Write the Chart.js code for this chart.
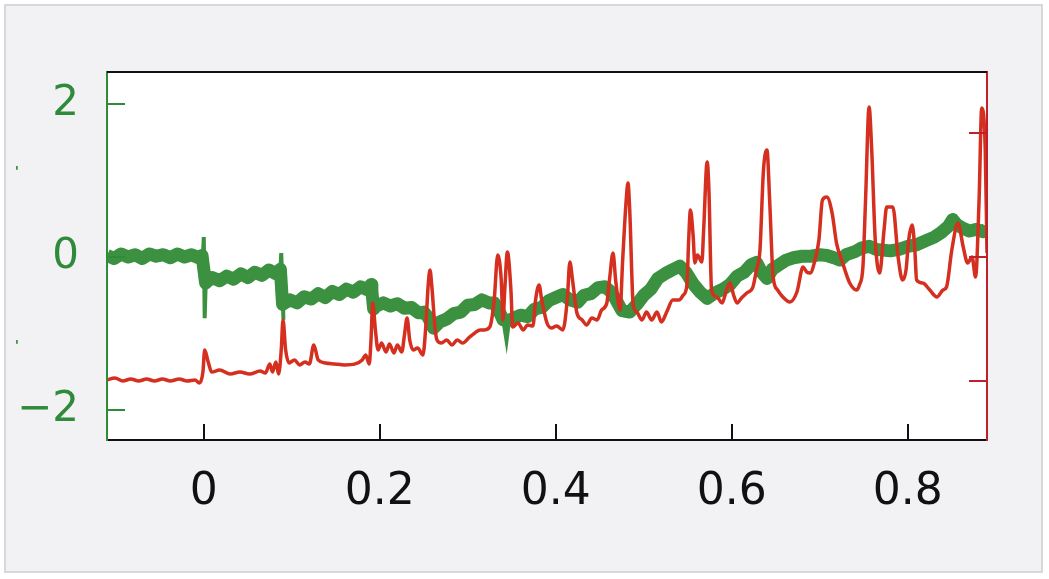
<!DOCTYPE html>
<html><head><meta charset="utf-8">
<script src="https://cdn.jsdelivr.net/npm/chart.js@4.4.1/dist/chart.umd.min.js"></script>
<style>
html,body{margin:0;padding:0;background:#ffffff;width:1049px;height:579px;overflow:hidden;}
#frame{position:absolute;left:4px;top:4px;width:1035px;height:565px;border:2px solid #d8d8da;background:#f2f2f4;}
#c{position:absolute;left:0;top:0;}
</style></head><body>
<div id="frame"></div>
<canvas id="c" width="1049" height="579"></canvas>
<script>
// tick values
const xTicks = [0, 0.2, 0.4, 0.6, 0.8];
const leftTicks = [-2, 0, 2];
const rightTicks = [-1, 0, 1];

// green series (left axis) - the noisy band
const greenX = [-0.110,-0.102,-0.094,-0.086,-0.078,-0.070,-0.062,-0.054,-0.046,-0.038,-0.030,-0.022,-0.014,-0.006,-0.002,0.002,0.005,
0.010,0.018,0.026,0.034,0.042,0.050,0.058,0.066,0.074,0.082,0.087,0.0895,0.092,
0.098,0.106,0.114,0.122,0.130,0.138,0.146,0.154,0.162,0.170,0.178,0.186,0.190,0.191,0.193,0.196,
0.204,0.212,0.220,0.228,0.236,0.244,0.250,0.255,0.261,0.268,0.276,0.284,0.292,0.300,0.308,0.316,0.324,0.330,0.336,0.340,
0.347,0.352,0.360,0.368,0.376,0.384,0.392,0.400,0.408,0.416,0.425,0.432,0.440,0.448,0.456,0.462,0.468,0.475,0.484,
0.492,0.500,0.508,0.516,0.524,0.532,0.541,0.548,0.556,0.564,0.572,0.581,0.590,0.598,0.606,0.614,0.622,0.628,0.634,0.640,
0.646,0.654,0.662,0.670,0.680,0.690,0.700,0.708,0.716,0.723,0.730,0.740,0.748,0.756,0.764,0.772,0.780,0.790,0.800,0.810,
0.822,0.830,0.838,0.846,0.851,0.856,0.862,0.870,0.878,0.886,0.890];
const greenY = [0.02,-0.02,0.04,0.00,0.03,-0.02,0.04,0.01,0.03,-0.01,0.04,0.00,0.03,-0.01,0.02,-0.34,-0.31,
-0.27,-0.31,-0.25,-0.29,-0.22,-0.27,-0.20,-0.24,-0.17,-0.22,-0.16,-0.62,-0.60,
-0.56,-0.60,-0.52,-0.55,-0.48,-0.53,-0.45,-0.49,-0.42,-0.46,-0.39,-0.43,-0.36,-0.45,-0.68,-0.64,
-0.60,-0.64,-0.61,-0.67,-0.66,-0.73,-0.72,-0.79,-0.93,-0.85,-0.81,-0.74,-0.72,-0.63,-0.62,-0.56,-0.60,-0.60,-0.72,-0.82,
-0.83,-0.80,-0.76,-0.78,-0.68,-0.66,-0.57,-0.53,-0.49,-0.56,-0.59,-0.50,-0.48,-0.40,-0.39,-0.45,-0.55,-0.70,-0.72,
-0.62,-0.50,-0.42,-0.28,-0.22,-0.17,-0.12,-0.20,-0.35,-0.46,-0.54,-0.47,-0.42,-0.36,-0.25,-0.20,-0.10,-0.07,-0.20,-0.28,
-0.16,-0.10,-0.04,-0.01,0.01,0.01,0.03,0.02,-0.01,-0.04,0.03,0.07,0.12,0.14,0.10,0.09,0.08,0.10,0.14,0.16,
0.22,0.26,0.32,0.40,0.49,0.42,0.38,0.34,0.36,0.33,0.37];

// green series - narrow transient spikes (null = break)
const spikeX = [-0.001, 0.000, 0.001, 0.002, 0.003, 0.087, 0.088, 0.089, 0.0905, 0.092, 0.340, 0.344, 0.347];
const spikeY = [0.02, 0.26, -0.80, -0.40, null, -0.17, 0.05, -0.30, -0.82, null, -0.80, -1.09, -0.82];

// red series (right axis)
const redX = [-0.110,-0.101,-0.092,-0.083,-0.074,-0.065,-0.056,-0.047,-0.038,-0.028,
-0.019,-0.010,-0.005,-0.001,0.001,0.005,0.009,0.018,0.030,0.041,
0.052,0.064,0.070,0.075,0.078,0.082,0.085,0.088,0.090,0.093,
0.097,0.103,0.109,0.115,0.120,0.125,0.130,0.138,0.149,0.160,
0.172,0.180,0.184,0.188,0.190,0.192,0.195,0.198,0.202,0.207,
0.211,0.216,0.220,0.225,0.228,0.231,0.234,0.238,0.243,0.249,
0.252,0.255,0.257,0.259,0.263,0.265,0.270,0.276,0.282,0.288,
0.294,0.302,0.308,0.314,0.319,0.325,0.330,0.334,0.338,0.340,
0.342,0.345,0.349,0.351,0.357,0.363,0.368,0.374,0.377,0.381,
0.384,0.390,0.395,0.401,0.408,0.413,0.416,0.419,0.424,0.430,
0.435,0.441,0.447,0.452,0.458,0.461,0.465,0.468,0.473,0.476,
0.480,0.482,0.484,0.488,0.492,0.498,0.503,0.509,0.515,0.520,
0.526,0.533,0.540,0.545,0.549,0.551,0.553,0.556,0.558,0.561,
0.566,0.568,0.572,0.574,0.577,0.583,0.589,0.594,0.598,0.602,
0.606,0.611,0.617,0.624,0.628,0.632,0.636,0.640,0.643,0.647,
0.652,0.658,0.666,0.674,0.681,0.685,0.689,0.694,0.699,0.703,
0.708,0.714,0.719,0.726,0.734,0.742,0.745,0.749,0.752,0.756,
0.759,0.763,0.768,0.773,0.776,0.783,0.789,0.794,0.798,0.801,
0.805,0.808,0.810,0.817,0.825,0.833,0.840,0.844,0.850,0.857,
0.863,0.868,0.873,0.877,0.881,0.884,0.888,0.890];
const redY = [-0.988,-0.972,-0.996,-0.980,-0.996,-0.980,-0.996,-0.980,-0.996,-0.980,
-0.996,-0.988,-1.012,-0.924,-0.747,-0.843,-0.924,-0.908,-0.940,-0.924,
-0.940,-0.916,-0.932,-0.859,-0.924,-0.843,-0.940,-0.747,-0.506,-0.747,
-0.851,-0.827,-0.867,-0.843,-0.859,-0.707,-0.827,-0.851,-0.859,-0.867,
-0.859,-0.827,-0.787,-0.859,-0.667,-0.369,-0.586,-0.747,-0.691,-0.763,
-0.699,-0.771,-0.707,-0.763,-0.627,-0.490,-0.667,-0.747,-0.731,-0.787,
-0.586,-0.225,-0.104,-0.225,-0.586,-0.667,-0.691,-0.667,-0.707,-0.667,
-0.691,-0.643,-0.610,-0.586,-0.586,-0.562,-0.345,0.016,-0.185,-0.506,
-0.265,0.040,-0.265,-0.562,-0.530,-0.586,-0.546,-0.554,-0.345,-0.225,
-0.345,-0.530,-0.570,-0.554,-0.586,-0.345,-0.040,-0.185,-0.450,-0.506,
-0.546,-0.490,-0.506,-0.426,-0.369,-0.185,0.032,-0.185,-0.426,-0.024,
0.458,0.594,0.377,-0.386,-0.442,-0.506,-0.442,-0.506,-0.442,-0.522,
-0.442,-0.345,-0.345,-0.305,-0.225,0.137,0.377,0.177,-0.048,0.016,
-0.040,0.217,0.763,0.538,-0.265,-0.321,-0.369,-0.265,-0.209,-0.305,
-0.369,-0.329,-0.289,-0.241,-0.104,0.056,0.699,0.859,0.458,-0.161,
-0.265,-0.321,-0.361,-0.281,-0.080,-0.120,-0.129,-0.040,0.137,0.458,
0.482,0.353,0.112,-0.048,-0.209,-0.265,-0.225,-0.080,0.458,1.205,
0.859,0.137,-0.129,0.217,0.402,0.402,0,-0.185,-0.104,0.137,
0.257,0.056,-0.185,-0.209,-0.265,-0.321,-0.265,-0.241,0.056,0.273,
0.080,-0.048,0,-0.161,0.458,1.197,0.859,0.032];

const GREEN = '#3b9140';
const GREEN_AXIS = '#2f8a3a';
const RED = '#d42f1f';
const RED_AXIS = '#c0202a';

const greenData = greenX.map((x, i) => ({x: x, y: greenY[i]}));
const spikeData = spikeX.map((x, i) => ({x: x, y: spikeY[i]}));
const redData = redX.map((x, i) => ({x: x, y: redY[i]}));

const framePlugin = {
  id: 'framePlugin',
  beforeDraw(chart) {
    const {ctx, chartArea: a} = chart;
    ctx.save();
    ctx.fillStyle = '#ffffff';
    ctx.fillRect(a.left, a.top, a.right - a.left, a.bottom - a.top);
    ctx.restore();
  },
  afterDraw(chart) {
    const {ctx, chartArea: a, scales} = chart;
    ctx.save();
    ctx.lineWidth = 2;
    ctx.strokeStyle = '#111111';
    ctx.beginPath(); ctx.moveTo(a.left, a.top); ctx.lineTo(a.right, a.top); ctx.stroke();
    scales.x.ticks.forEach(t => {
      const p = Math.round(scales.x.getPixelForValue(t.value));
      ctx.beginPath(); ctx.moveTo(p, a.bottom); ctx.lineTo(p, a.bottom - 16); ctx.stroke();
    });
    ctx.strokeStyle = GREEN_AXIS;
    scales.y.ticks.forEach(t => {
      const p = Math.round(scales.y.getPixelForValue(t.value));
      ctx.beginPath(); ctx.moveTo(a.left, p); ctx.lineTo(a.left + 18, p); ctx.stroke();
    });
    ctx.strokeStyle = RED_AXIS;
    scales.y2.ticks.forEach(t => {
      const p = Math.round(scales.y2.getPixelForValue(t.value));
      ctx.beginPath(); ctx.moveTo(a.right, p); ctx.lineTo(a.right - 18, p); ctx.stroke();
    });
    ctx.fillStyle = GREEN_AXIS;
    ctx.font = 'bold 14px "DejaVu Sans"';
    ctx.textAlign = 'center';
    ctx.textBaseline = 'middle';
    ctx.fillText("'", 17, 172);
    ctx.fillText("'", 17, 346);
    ctx.restore();
  }
};

new Chart(document.getElementById('c'), {
  type: 'line',
  data: {
    datasets: [
      {label: 'red', data: redData, yAxisID: 'y2', borderColor: RED, borderWidth: 3.5,
       pointRadius: 0, cubicInterpolationMode: 'monotone', clip: 0},
      {label: 'green spikes', data: spikeData, yAxisID: 'y', borderColor: GREEN, borderWidth: 4,
       pointRadius: 0, tension: 0, spanGaps: false, clip: 0},
      {label: 'green', data: greenData, yAxisID: 'y', borderColor: GREEN, borderWidth: 13,
       pointRadius: 0, tension: 0, borderJoinStyle: 'round', clip: 0}
    ]
  },
  options: {
    responsive: false,
    animation: false,
    devicePixelRatio: 1,
    layout: {padding: {top: 72, left: 0, right: 0, bottom: 0}},
    plugins: {legend: {display: false}, tooltip: {enabled: false}},
    scales: {
      x: {
        type: 'linear', min: -0.110, max: 0.890,
        afterBuildTicks: s => { s.ticks = xTicks.map(v => ({value: v})); },
        afterFit: s => { s.height = 139; },
        grid: {display: false, drawTicks: false},
        border: {display: true, color: '#111111', width: 2, z: 1},
        ticks: {color: '#111111', padding: 26, maxRotation: 0,
          font: {family: 'DejaVu Sans', size: 44},
          callback: v => v === 0 ? '0' : v.toFixed(1)}
      },
      y: {
        type: 'linear', position: 'left', min: -2.392, max: 2.418,
        afterBuildTicks: s => { s.ticks = leftTicks.map(v => ({value: v})); },
        afterFit: s => { s.width = 107; },
        grid: {display: false, drawTicks: false},
        border: {display: true, color: GREEN_AXIS, width: 2, z: 1},
        ticks: {color: GREEN_AXIS, padding: 28,
          font: {family: 'DejaVu Sans', size: 42},
          callback: v => v < 0 ? '\u2212' + Math.abs(v) : String(v)}
      },
      y2: {
        type: 'linear', position: 'right', min: -1.470, max: 1.486,
        afterBuildTicks: s => { s.ticks = rightTicks.map(v => ({value: v})); },
        afterFit: s => { s.width = 62; },
        grid: {display: false, drawTicks: false},
        border: {display: true, color: RED_AXIS, width: 2, z: 1},
        ticks: {display: false}
      }
    }
  },
  plugins: [framePlugin]
});
</script>
</body></html>
